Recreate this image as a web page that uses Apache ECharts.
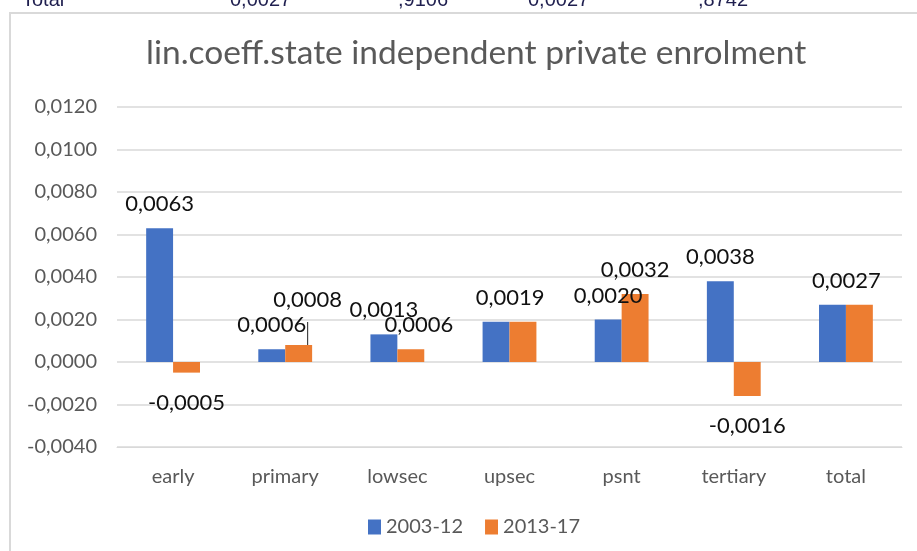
<!DOCTYPE html>
<html>
<head>
<meta charset="utf-8">
<script src="https://cdn.jsdelivr.net/npm/echarts@6/dist/echarts.min.js"></script>
<style>
  html, body { margin: 0; padding: 0; background: #fff; }
  #chart { width: 917px; height: 551px; }
</style>
</head>
<body>
<div id="chart"></div>
<script>
// Education levels on the x axis
const categories = ['early', 'primary', 'lowsec', 'upsec', 'psnt', 'tertiary', 'total'];
// Linear coefficients per period
const series2003 = [0.0063, 0.0006, 0.0013, 0.0019, 0.0020, 0.0038, 0.0027];
const series2013 = [-0.0005, 0.0008, 0.0006, 0.0019, 0.0032, -0.0016, 0.0027];
const seriesNames = ['2003-12', '2013-17'];
// Table row partly visible above the chart frame
const tableRow = ['Total', '0,0027', ',9106', '0,0027', ',8742'];

const fmt = v => v.toFixed(4).replace('.', ',');

// Per-point label tweaks where neighbouring labels crowd each other
const labelTweaks2003 = {
  3: { offset: [14, 0] },
  6: { offset: [14, 0] }
};
const labelTweaks2013 = {
  1: { offset: [9, -21], leader: true },
  2: { offset: [8, 0] },
  3: { hide: true },
  6: { hide: true }
};

function buildData(values, tweaks) {
  return values.map((v, i) => {
    const t = tweaks[i] || {};
    const label = {
      show: !t.hide,
      position: v < 0 ? 'bottom' : 'top',
      distance: v < 0 ? 19 : 13
    };
    if (t.offset) label.offset = t.offset;
    const item = { value: v, label: label };
    if (t.leader) {
      item.labelLine = { show: true, lineStyle: { color: '#222', width: 1 } };
    }
    return item;
  });
}

const labelBase = {
  show: true,
  formatter: p => fmt(p.value),
  fontFamily: 'Lato',
  fontSize: 22,
  color: '#111'
};

const chart = echarts.init(document.getElementById('chart'));
chart.setOption({
  backgroundColor: '#fff',
  animation: false,
  title: {
    text: 'lin.coeff.state independent private enrolment',
    left: 141,
    top: 31,
    textStyle: { fontFamily: 'Lato', fontSize: 33.5, fontWeight: 'normal', color: '#595959' }
  },
  graphic: [
    {
      type: 'rect',
      shape: { x: 10, y: 13, width: 1000, height: 1000 },
      style: { fill: 'none', stroke: '#d9d9d9', lineWidth: 2 },
      silent: true
    },
    ...tableRow.map((t, i) => ({
      type: 'text',
      x: [22, 230, 398, 528, 698][i],
      y: 10,
      style: {
        text: t,
        font: '20px "Liberation Sans"',
        fill: '#1f1f4f',
        verticalAlign: 'bottom'
      }
    }))
  ],
  legend: {
    data: seriesNames,
    bottom: 9,
    left: 363,
    itemWidth: 13,
    itemHeight: 15,
    itemGap: 22,
    icon: 'rect',
    textStyle: { fontFamily: 'Lato', fontSize: 20, color: '#595959' }
  },
  grid: { left: 117, right: 15, top: 107, bottom: 104 },
  xAxis: {
    type: 'category',
    data: categories,
    axisLine: { onZero: false, lineStyle: { color: '#d9d9d9' } },
    axisTick: { show: false },
    axisLabel: { fontFamily: 'Lato', fontSize: 20, color: '#595959', margin: 20 }
  },
  yAxis: {
    type: 'value',
    min: -0.004,
    max: 0.012,
    interval: 0.002,
    axisLine: { show: false },
    axisTick: { show: false },
    splitLine: { lineStyle: { color: '#d9d9d9', width: 1.5 } },
    axisLabel: {
      fontFamily: 'Lato',
      fontSize: 20,
      color: '#595959',
      margin: 20,
      formatter: v => fmt(v)
    }
  },
  series: [
    {
      name: seriesNames[0],
      type: 'bar',
      data: buildData(series2003, labelTweaks2003),
      itemStyle: { color: '#4472C4' },
      barGap: '0%',
      barCategoryGap: '52%',
      label: labelBase
    },
    {
      name: seriesNames[1],
      type: 'bar',
      data: buildData(series2013, labelTweaks2013),
      itemStyle: { color: '#ED7D31' },
      label: labelBase,
      labelLine: { show: false }
    }
  ]
});
</script>
</body>
</html>
